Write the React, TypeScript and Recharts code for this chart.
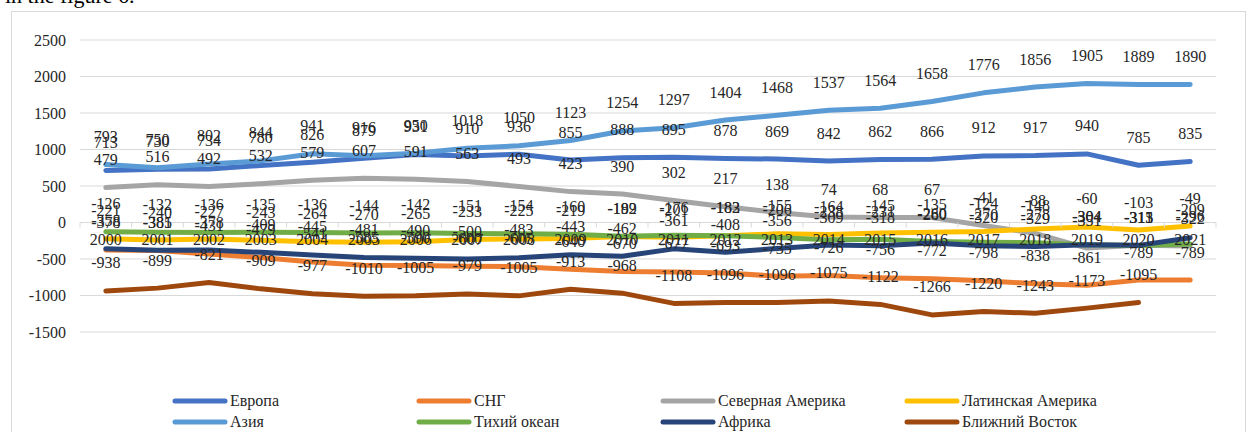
import React from 'react';
import {
  LineChart,
  Line,
  XAxis,
  YAxis,
  CartesianGrid,
  ReferenceLine,
  ReferenceDot,
  LabelList,
  Legend,
} from 'recharts';

// Category axis
const years = [
  '2000', '2001', '2002', '2003', '2004', '2005', '2006', '2007', '2008', '2009', '2010',
  '2011', '2012', '2013', '2014', '2015', '2016', '2017', '2018', '2019', '2020', '2021',
];

// Regional series
const europe = [713, 730, 734, 780, 826, 879, 931, 910, 936, 855, 888, 895, 878, 869, 842, 862, 866, 912, 917, 940, 785, 835];
const cis = [-378, -385, -431, -479, -541, -585, -590, -600, -605, -640, -670, -677, -693, -735, -726, -756, -772, -798, -838, -861, -789, -789];
const northAmerica = [479, 516, 492, 532, 579, 607, 591, 563, 493, 423, 390, 302, 217, 138, 74, 68, 67, -41, -148, -351, -311, -322];
const latinAmerica = [-221, -240, -227, -243, -264, -270, -265, -233, -225, -219, -192, -201, -183, -155, -164, -145, -135, -124, -88, -60, -103, -49];
const asia = [793, 750, 802, 844, 941, 916, 950, 1018, 1050, 1123, 1254, 1297, 1404, 1468, 1537, 1564, 1658, 1776, 1856, 1905, 1889, 1890];
const pacific = [-126, -132, -136, -135, -136, -144, -142, -151, -154, -160, -189, -176, -182, -206, -238, -231, -260, -270, -278, -304, -315, -296];
const africa = [-358, -381, -378, -409, -445, -481, -490, -500, -483, -443, -462, -361, -408, -356, -309, -318, -280, -320, -329, -304, -313, -209];
const middleEast = [-938, -899, -821, -909, -977, -1010, -1005, -979, -1005, -913, -968, -1108, -1096, -1096, -1075, -1122, -1266, -1220, -1243, -1173, -1095, null];

// Value axis ticks
const yTicks = [-1500, -1000, -500, 0, 500, 1000, 1500, 2000, 2500];

const series = [
  { key: 'europe', name: 'Европа', color: '#4472C4', values: europe },
  { key: 'cis', name: 'СНГ', color: '#ED7D31', values: cis },
  { key: 'northAmerica', name: 'Северная Америка', color: '#A5A5A5', values: northAmerica },
  { key: 'latinAmerica', name: 'Латинская Америка', color: '#FFC000', values: latinAmerica },
  { key: 'asia', name: 'Азия', color: '#5B9BD5', values: asia },
  { key: 'pacific', name: 'Тихий океан', color: '#70AD47', values: pacific },
  { key: 'africa', name: 'Африка', color: '#264478', values: africa },
  { key: 'middleEast', name: 'Ближний Восток', color: '#9E480E', values: middleEast },
];

const rows = years.map((year, i) => {
  const row: Record<string, any> = { year };
  series.forEach((s) => {
    row[s.key] = s.values[i];
  });
  return row;
});

const FONT = '"Liberation Serif", "Times New Roman", serif';
const TEXT = '#262626';
const GRID = '#d9d9d9';

const CHART_W = 1235;
const CHART_H = 421;
const MARGIN = { top: 29, right: 30, bottom: 56, left: 9 };
const Y_AXIS_W = 60;
const STEP = (CHART_W - MARGIN.left - MARGIN.right - Y_AXIS_W) / years.length;

// Value label drawn above each point
const PointLabel = (props: any) => {
  const { x, y, value } = props;
  if (value === null || value === undefined || x == null || y == null) return null;
  return (
    <text x={x} y={y - 22.5} textAnchor="middle" fontFamily={FONT} fontSize={16} fill={TEXT}>
      {value}
    </text>
  );
};

// Category label and boundary tick sitting on the zero line
const YearMark = (props: any) => {
  const { cx, cy, year, last } = props;
  if (cx == null || cy == null) return null;
  return (
    <g>
      <line x1={cx - STEP / 2} y1={cy} x2={cx - STEP / 2} y2={cy + 5} stroke={GRID} strokeWidth={1} />
      {last && <line x1={cx + STEP / 2} y1={cy} x2={cx + STEP / 2} y2={cy + 5} stroke={GRID} strokeWidth={1} />}
      <text x={cx} y={cy + 22.5} textAnchor="middle" fontFamily={FONT} fontSize={16} fill={TEXT}>
        {year}
      </text>
    </g>
  );
};

const LegendGrid = () => (
  <div style={{ position: 'relative', width: CHART_W, height: 44 }}>
    {series.map((s, i) => {
      const col = i % 4;
      const row = Math.floor(i / 4);
      return (
        <div
          key={s.key}
          style={{
            position: 'absolute',
            left: 161 + col * 244,
            top: row * 21,
            height: 21,
            display: 'flex',
            alignItems: 'center',
            whiteSpace: 'nowrap',
          }}
        >
          <svg width={56} height={8} style={{ display: 'block' }}>
            <line x1={3} y1={4} x2={53} y2={4} stroke={s.color} strokeWidth={5} strokeLinecap="round" />
          </svg>
          <span style={{ fontFamily: FONT, fontSize: 16, color: TEXT, marginLeft: 2, lineHeight: '21px' }}>
            {s.name}
          </span>
        </div>
      );
    })}
  </div>
);

export default function App() {
  return (
    <div
      style={{
        position: 'absolute',
        left: 0,
        top: 0,
        width: 1254,
        height: 432,
        overflow: 'hidden',
        background: '#ffffff',
      }}
    >
      <div
        style={{
          position: 'absolute',
          left: 5,
          top: -15,
          fontFamily: FONT,
          fontSize: 22,
          lineHeight: '22px',
          color: '#000',
          whiteSpace: 'nowrap',
        }}
      >
        in the figure 6.
      </div>
      <div
        style={{
          position: 'absolute',
          left: 11,
          top: 11,
          width: CHART_W,
          height: CHART_H + 20,
          border: `1px solid ${GRID}`,
          boxSizing: 'border-box',
          background: '#fff',
        }}
      />
      <div style={{ position: 'absolute', left: 11, top: 11 }}>
        <LineChart width={CHART_W} height={CHART_H} data={rows} margin={MARGIN}>
          <CartesianGrid vertical={false} stroke={GRID} strokeWidth={1} />
          <XAxis dataKey="year" scale="band" hide />
          <YAxis
            width={Y_AXIS_W}
            domain={[-1500, 2500]}
            ticks={yTicks}
            interval={0}
            axisLine={false}
            tickLine={false}
            tickSize={0}
            tickMargin={14}
            tick={{ fontFamily: FONT, fontSize: 16, fill: TEXT }}
          />
          <ReferenceLine y={0} stroke={GRID} strokeWidth={1} />
          {series.map((s) => (
            <Line
              key={s.key}
              type="linear"
              dataKey={s.key}
              name={s.name}
              stroke={s.color}
              strokeWidth={5}
              strokeLinecap="round"
              strokeLinejoin="round"
              dot={false}
              activeDot={false}
              isAnimationActive={false}
            />
          ))}
          {series.map((s) => (
            <Line
              key={`${s.key}-labels`}
              type="linear"
              dataKey={s.key}
              stroke="none"
              dot={false}
              activeDot={false}
              legendType="none"
              isAnimationActive={false}
            >
              <LabelList dataKey={s.key} content={PointLabel} />
            </Line>
          ))}
          {years.map((year, i) => (
            <ReferenceDot
              key={`mark-${year}`}
              x={year}
              y={0}
              r={0}
              shape={(p: any) => <YearMark {...p} year={year} last={i === years.length - 1} />}
            />
          ))}
          <Legend
            content={() => <LegendGrid />}
            wrapperStyle={{ left: 0, top: 379, width: CHART_W, height: 44 }}
          />
        </LineChart>
      </div>
    </div>
  );
}
